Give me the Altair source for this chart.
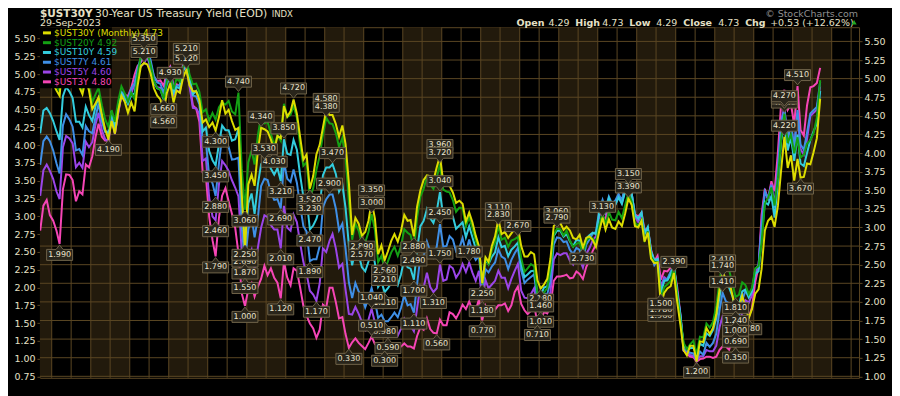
import altair as alt
import pandas as pd

# ------------------------------------------------------------------ data
# monthly closes, Sep-2003 .. Sep-2023 (241 months)
Y30 = [
    4.88, 5.15, 5.13, 5.07,
    4.93, 4.84, 4.77, 5.29, 5.33, 5.30, 5.20, 4.93, 4.89, 4.79, 5.00, 4.84,
    4.59, 4.67, 4.75, 4.51, 4.32, 4.19, 4.43, 4.26, 4.57, 4.77, 4.69, 4.54,
    4.68, 4.56, 4.90, 5.17, 5.21, 5.19, 5.07, 4.87, 4.77, 4.72, 4.56, 4.81,
    4.93, 4.68, 4.84, 4.81, 5.01, 5.12, 4.91, 4.83, 4.83, 4.71, 4.41, 4.45,
    4.35, 4.41, 4.30, 4.48, 4.71, 4.53, 4.58, 4.43, 4.31, 4.34, 3.44, 2.69,
    3.58, 3.71, 3.56, 4.03, 4.34, 4.32, 4.29, 4.18, 4.03, 4.23, 4.20, 4.63,
    4.49, 4.56, 4.72, 4.53, 4.22, 3.91, 3.98, 3.52, 3.69, 3.98, 4.11, 4.34,
    4.58, 4.51, 4.51, 4.39, 4.22, 4.37, 4.12, 3.60, 2.90, 3.13, 3.05, 2.89,
    2.94, 3.09, 3.35, 3.12, 2.64, 2.76, 2.56, 2.68, 2.82, 2.91, 2.81, 2.95,
    3.17, 3.09, 3.10, 2.88, 3.28, 3.50, 3.64, 3.70, 3.69, 3.63, 3.81, 3.96,
    3.61, 3.59, 3.56, 3.47, 3.33, 3.36, 3.32, 3.08, 3.20, 3.07, 2.89, 2.75,
    2.25, 2.60, 2.54, 2.75, 2.88, 3.11, 2.91, 2.94, 2.86, 2.92, 2.98, 3.01,
    2.75, 2.61, 2.61, 2.67, 2.64, 2.29, 2.18, 2.23, 2.31, 2.58, 3.02, 3.06,
    3.06, 2.97, 3.01, 2.96, 2.86, 2.84, 2.90, 2.73, 2.86, 2.88, 2.83, 2.74,
    2.95, 3.13, 2.97, 3.11, 3.00, 2.98, 3.08, 3.02, 3.19, 3.39, 3.30, 3.02,
    3.00, 3.09, 2.81, 2.93, 2.58, 2.52, 2.53, 1.96, 2.12, 2.18, 2.21, 2.39,
    2.00, 1.68, 1.35, 1.28, 1.41, 1.41, 1.20, 1.47, 1.46, 1.65, 1.57, 1.65,
    1.83, 2.17, 2.41, 2.30, 2.29, 2.09, 1.89, 1.93, 2.08, 1.93, 1.78, 1.90,
    2.11, 2.17, 2.44, 2.96, 3.09, 3.14, 3.01, 3.29, 3.78, 4.22, 3.80, 3.97,
    3.63, 3.92, 3.67, 3.68, 3.86, 3.85, 4.01, 4.20, 4.73,
]
Y20 = [
    4.91, 5.18, 5.17, 5.10,
    4.96, 4.84, 4.76, 5.34, 5.42, 5.33, 5.22, 4.91, 4.87, 4.77, 4.95, 4.84,
    4.60, 4.72, 4.81, 4.56, 4.36, 4.25, 4.49, 4.32, 4.62, 4.83, 4.73, 4.61,
    4.74, 4.65, 4.99, 5.27, 5.35, 5.31, 5.14, 4.91, 4.81, 4.78, 4.66, 4.91,
    5.01, 4.79, 4.94, 4.90, 5.10, 5.21, 5.00, 4.86, 4.87, 4.75, 4.46, 4.50,
    4.34, 4.45, 4.35, 4.53, 4.60, 4.57, 4.62, 4.47, 4.43, 4.74, 3.65, 3.06,
    3.74, 3.91, 3.71, 4.13, 4.41, 4.30, 4.32, 4.15, 3.98, 4.13, 4.05, 4.58,
    4.39, 4.42, 4.55, 4.38, 3.99, 3.69, 3.74, 3.23, 3.37, 3.63, 3.83, 4.13,
    4.38, 4.30, 4.29, 4.16, 3.96, 4.09, 3.81, 3.18, 2.63, 2.86, 2.76, 2.57,
    2.59, 2.74, 3.00, 2.77, 2.31, 2.40, 2.21, 2.32, 2.45, 2.53, 2.40, 2.54,
    2.78, 2.73, 2.70, 2.49, 2.95, 3.25, 3.36, 3.53, 3.42, 3.36, 3.52, 3.72,
    3.35, 3.32, 3.31, 3.20, 3.03, 3.09, 3.08, 2.82, 2.96, 2.79, 2.62, 2.47,
    2.00, 2.36, 2.28, 2.48, 2.59, 2.83, 2.63, 2.66, 2.53, 2.62, 2.64, 2.67,
    2.37, 2.17, 2.22, 2.28, 2.25, 1.86, 1.83, 1.87, 1.94, 2.23, 2.70, 2.79,
    2.78, 2.69, 2.76, 2.62, 2.53, 2.57, 2.59, 2.42, 2.62, 2.66, 2.65, 2.58,
    2.84, 3.02, 2.85, 3.03, 2.92, 2.91, 3.03, 2.94, 3.13, 3.30, 3.18, 2.87,
    2.83, 2.92, 2.63, 2.75, 2.39, 2.31, 2.31, 1.78, 1.95, 1.99, 2.04, 2.25,
    1.83, 1.46, 1.15, 1.06, 1.13, 1.18, 0.98, 1.24, 1.23, 1.43, 1.37, 1.45,
    1.68, 2.04, 2.31, 2.21, 2.20, 2.00, 1.81, 1.84, 2.02, 1.98, 1.85, 1.94,
    2.22, 2.25, 2.59, 3.15, 3.23, 3.38, 3.12, 3.51, 4.08, 4.44, 4.02, 4.14,
    3.87, 4.10, 3.81, 3.85, 4.01, 4.06, 4.16, 4.38, 4.92,
]
Y10 = [
    3.94, 4.29, 4.33, 4.25,
    4.13, 3.97, 3.84, 4.51, 4.65, 4.58, 4.48, 4.12, 4.12, 4.03, 4.35, 4.22,
    4.13, 4.36, 4.48, 4.20, 3.98, 3.94, 4.28, 4.02, 4.32, 4.56, 4.49, 4.39,
    4.53, 4.55, 4.85, 5.07, 5.12, 5.14, 4.99, 4.74, 4.63, 4.61, 4.46, 4.70,
    4.83, 4.56, 4.65, 4.63, 4.89, 5.03, 4.78, 4.54, 4.59, 4.48, 3.97, 4.03,
    3.67, 3.53, 3.45, 3.77, 4.06, 3.99, 3.99, 3.83, 3.85, 4.01, 2.93, 2.25,
    2.87, 3.02, 2.71, 3.16, 3.47, 3.53, 3.52, 3.40, 3.31, 3.41, 3.21, 3.85,
    3.63, 3.61, 3.84, 3.69, 3.31, 2.97, 2.94, 2.47, 2.53, 2.63, 2.81, 3.30,
    3.42, 3.42, 3.47, 3.32, 3.05, 3.16, 2.80, 2.23, 1.92, 2.17, 2.08, 1.89,
    1.83, 1.98, 2.23, 1.95, 1.59, 1.67, 1.51, 1.57, 1.65, 1.72, 1.62, 1.78,
    2.02, 1.89, 1.87, 1.70, 2.16, 2.52, 2.60, 2.78, 2.64, 2.57, 2.75, 3.04,
    2.67, 2.66, 2.73, 2.67, 2.48, 2.53, 2.58, 2.35, 2.52, 2.35, 2.18, 2.17,
    1.68, 2.00, 1.94, 2.05, 2.12, 2.35, 2.20, 2.22, 2.06, 2.16, 2.21, 2.27,
    1.94, 1.74, 1.78, 1.83, 1.84, 1.49, 1.46, 1.58, 1.60, 1.84, 2.37, 2.45,
    2.45, 2.36, 2.40, 2.29, 2.21, 2.31, 2.30, 2.12, 2.33, 2.38, 2.42, 2.40,
    2.72, 2.87, 2.74, 2.95, 2.83, 2.85, 2.96, 2.86, 3.05, 3.15, 3.01, 2.69,
    2.63, 2.73, 2.41, 2.51, 2.14, 2.00, 2.02, 1.50, 1.68, 1.69, 1.78, 1.92,
    1.51, 1.13, 0.70, 0.64, 0.65, 0.66, 0.55, 0.72, 0.69, 0.88, 0.84, 0.93,
    1.11, 1.44, 1.74, 1.65, 1.58, 1.45, 1.24, 1.30, 1.52, 1.55, 1.43, 1.52,
    1.79, 1.83, 2.32, 2.89, 2.85, 2.98, 2.65, 3.19, 3.83, 4.10, 3.68, 3.88,
    3.52, 3.92, 3.48, 3.44, 3.64, 3.84, 3.97, 4.09, 4.59,
]
Y7 = [
    3.35, 3.71, 3.78, 3.71,
    3.57, 3.37, 3.22, 3.95, 4.12, 4.04, 3.93, 3.57, 3.59, 3.50, 3.94, 3.86,
    3.83, 4.08, 4.28, 4.01, 3.85, 3.84, 4.16, 3.91, 4.22, 4.46, 4.42, 4.35,
    4.51, 4.59, 4.81, 4.98, 5.02, 5.11, 4.94, 4.70, 4.60, 4.58, 4.44, 4.70,
    4.81, 4.51, 4.55, 4.56, 4.84, 4.98, 4.68, 4.40, 4.39, 4.27, 3.71, 3.70,
    3.18, 3.07, 2.88, 3.37, 3.78, 3.73, 3.62, 3.43, 3.44, 3.46, 2.39, 1.87,
    2.37, 2.56, 2.25, 2.55, 3.03, 3.14, 3.12, 2.93, 2.82, 2.83, 2.69, 3.39,
    3.14, 3.09, 3.28, 3.08, 2.74, 2.42, 2.34, 1.89, 1.92, 1.92, 2.12, 2.71,
    2.83, 2.90, 2.90, 2.69, 2.36, 2.46, 2.08, 1.57, 1.33, 1.56, 1.43, 1.35,
    1.19, 1.33, 1.48, 1.29, 1.03, 1.08, 0.98, 0.98, 1.04, 1.11, 1.04, 1.18,
    1.37, 1.22, 1.24, 1.11, 1.54, 1.96, 1.96, 2.19, 2.04, 1.95, 2.11, 2.45,
    2.11, 2.12, 2.27, 2.22, 2.04, 2.09, 2.24, 2.02, 2.22, 2.02, 1.91, 1.97,
    1.48, 1.77, 1.72, 1.81, 1.87, 2.07, 1.96, 1.93, 1.77, 1.91, 2.01, 2.09,
    1.75, 1.56, 1.61, 1.65, 1.69, 1.29, 1.24, 1.40, 1.39, 1.58, 2.14, 2.25,
    2.24, 2.18, 2.19, 2.06, 2.00, 2.09, 2.06, 1.91, 2.14, 2.22, 2.31, 2.33,
    2.66, 2.82, 2.68, 2.87, 2.76, 2.81, 2.91, 2.81, 3.05, 3.07, 2.92, 2.59,
    2.54, 2.61, 2.31, 2.39, 2.02, 1.83, 1.90, 1.42, 1.61, 1.62, 1.73, 1.83,
    1.42, 1.07, 0.55, 0.53, 0.50, 0.49, 0.39, 0.52, 0.47, 0.65, 0.59, 0.65,
    0.79, 1.15, 1.41, 1.28, 1.25, 1.21, 1.00, 1.06, 1.30, 1.44, 1.35, 1.44,
    1.76, 1.83, 2.42, 2.95, 2.84, 3.04, 2.70, 3.27, 4.00, 4.19, 3.74, 3.97,
    3.62, 4.18, 3.66, 3.58, 3.84, 4.13, 4.18, 4.23, 4.61,
]
Y5 = [
    2.85, 3.26, 3.35, 3.25,
    3.12, 2.92, 2.80, 3.63, 3.81, 3.77, 3.69, 3.31, 3.38, 3.30, 3.72, 3.63,
    3.71, 4.00, 4.18, 3.90, 3.76, 3.72, 4.12, 3.84, 4.18, 4.45, 4.41, 4.35,
    4.49, 4.64, 4.82, 4.92, 4.97, 5.09, 4.88, 4.65, 4.59, 4.58, 4.44, 4.70,
    4.80, 4.46, 4.54, 4.51, 4.86, 4.92, 4.60, 4.26, 4.25, 4.16, 3.41, 3.45,
    2.82, 2.52, 2.46, 3.03, 3.41, 3.34, 3.25, 3.10, 2.98, 2.84, 1.93, 1.55,
    1.85, 1.99, 1.67, 2.02, 2.34, 2.54, 2.51, 2.38, 2.31, 2.31, 2.01, 2.69,
    2.34, 2.29, 2.55, 2.43, 2.10, 1.79, 1.60, 1.33, 1.27, 1.17, 1.45, 2.01,
    1.95, 2.13, 2.24, 2.01, 1.70, 1.76, 1.35, 0.96, 0.95, 1.07, 0.96, 0.83,
    0.71, 0.87, 1.04, 0.82, 0.67, 0.72, 0.60, 0.59, 0.62, 0.72, 0.61, 0.72,
    0.88, 0.77, 0.77, 0.68, 1.05, 1.41, 1.38, 1.62, 1.39, 1.31, 1.37, 1.75,
    1.49, 1.51, 1.73, 1.69, 1.54, 1.62, 1.76, 1.63, 1.78, 1.62, 1.49, 1.65,
    1.18, 1.50, 1.37, 1.43, 1.49, 1.65, 1.54, 1.54, 1.37, 1.52, 1.65, 1.76,
    1.33, 1.22, 1.21, 1.28, 1.37, 1.06, 1.01, 1.19, 1.14, 1.31, 1.83, 1.93,
    1.90, 1.93, 1.93, 1.81, 1.75, 1.89, 1.84, 1.70, 1.92, 2.01, 2.14, 2.20,
    2.52, 2.65, 2.56, 2.79, 2.68, 2.73, 2.85, 2.74, 2.94, 2.98, 2.81, 2.51,
    2.43, 2.52, 2.23, 2.28, 1.93, 1.76, 1.84, 1.39, 1.55, 1.51, 1.62, 1.69,
    1.32, 0.89, 0.37, 0.36, 0.30, 0.29, 0.21, 0.28, 0.28, 0.38, 0.36, 0.36,
    0.45, 0.75, 0.92, 0.86, 0.79, 0.87, 0.69, 0.77, 0.98, 1.18, 1.14, 1.26,
    1.62, 1.71, 2.42, 2.92, 2.81, 3.04, 2.70, 3.30, 4.06, 4.27, 3.74, 3.99,
    3.62, 4.18, 3.60, 3.51, 3.76, 4.13, 4.18, 4.23, 4.60,
]
Y3 = [
    2.20, 2.60, 2.69, 2.45,
    2.36, 2.20, 1.99, 2.86, 3.10, 3.09, 3.01, 2.67, 2.83, 2.78, 3.26, 3.21,
    3.39, 3.70, 3.91, 3.70, 3.64, 3.64, 4.01, 3.76, 4.09, 4.38, 4.37, 4.35,
    4.48, 4.69, 4.83, 4.89, 4.97, 5.10, 4.88, 4.66, 4.59, 4.60, 4.51, 4.74,
    4.82, 4.49, 4.54, 4.51, 4.86, 4.89, 4.57, 4.20, 4.15, 3.94, 3.13, 3.07,
    2.42, 2.05, 1.79, 2.40, 2.76, 2.88, 2.67, 2.47, 2.24, 1.84, 1.20, 1.00,
    1.26, 1.36, 1.15, 1.31, 1.43, 1.64, 1.49, 1.60, 1.45, 1.37, 1.12, 1.70,
    1.45, 1.33, 1.60, 1.56, 1.30, 1.00, 0.84, 0.72, 0.64, 0.49, 0.62, 1.02,
    0.97, 1.29, 1.29, 1.06, 0.80, 0.82, 0.55, 0.33, 0.42, 0.48, 0.41, 0.36,
    0.31, 0.41, 0.51, 0.39, 0.35, 0.39, 0.30, 0.31, 0.31, 0.37, 0.34, 0.35,
    0.40, 0.35, 0.35, 0.32, 0.52, 0.66, 0.62, 0.80, 0.63, 0.57, 0.56, 0.78,
    0.69, 0.69, 0.90, 0.87, 0.80, 0.90, 1.02, 0.95, 1.07, 0.93, 0.93, 1.10,
    0.77, 1.00, 0.89, 0.91, 0.94, 1.01, 1.01, 1.04, 0.92, 1.01, 1.22, 1.31,
    1.03, 0.93, 0.87, 0.92, 1.03, 0.71, 0.75, 0.90, 0.88, 0.99, 1.40, 1.47,
    1.47, 1.48, 1.50, 1.44, 1.45, 1.55, 1.51, 1.43, 1.62, 1.73, 1.88, 1.98,
    2.28, 2.42, 2.39, 2.62, 2.52, 2.62, 2.75, 2.66, 2.88, 2.90, 2.79, 2.46,
    2.43, 2.49, 2.21, 2.24, 1.90, 1.71, 1.80, 1.42, 1.56, 1.55, 1.61, 1.62,
    1.30, 0.85, 0.29, 0.23, 0.19, 0.18, 0.11, 0.15, 0.16, 0.19, 0.19, 0.17,
    0.19, 0.30, 0.35, 0.35, 0.30, 0.46, 0.35, 0.40, 0.53, 0.75, 0.82, 0.97,
    1.38, 1.62, 2.45, 2.87, 2.69, 2.99, 2.83, 3.45, 4.25, 4.45, 4.13, 4.22,
    3.90, 4.51, 3.81, 3.72, 4.20, 4.49, 4.51, 4.56, 4.80,
]

# high / low value flags drawn on the chart: (month, value, H=high / L=low)
ANN30 = [
    ("2005-06", 4.19, "L"), ("2006-05", 5.21, "H"), ("2006-11", 4.56, "L"),
    ("2007-01", 4.93, "H"), ("2007-06", 5.12, "H"), ("2008-03", 4.30, "L"),
    ("2008-12", 2.69, "L"), ("2009-05", 4.34, "H"), ("2009-09", 4.03, "L"),
    ("2010-03", 4.72, "H"), ("2010-08", 3.52, "L"), ("2011-01", 4.58, "H"),
    ("2011-12", 2.89, "L"), ("2012-03", 3.35, "H"), ("2012-07", 2.56, "L"),
    ("2013-04", 2.88, "L"), ("2013-12", 3.96, "H"), ("2015-01", 2.25, "L"),
    ("2015-06", 3.11, "H"), ("2016-07", 2.18, "L"), ("2016-12", 3.06, "H"),
    ("2017-08", 2.73, "L"), ("2018-02", 3.13, "H"), ("2018-10", 3.39, "H"),
    ("2019-08", 1.96, "L"), ("2019-12", 2.39, "H"), ("2020-07", 1.20, "L"),
    ("2021-03", 2.41, "H"), ("2021-11", 1.78, "L"), ("2022-10", 4.22, "H"),
    ("2023-03", 3.67, "L"),
]
ANN20 = [
    ("2006-05", 5.35, "H"), ("2006-11", 4.66, "L"), ("2007-06", 5.21, "H"),
    ("2008-10", 4.74, "H"), ("2008-12", 3.06, "L"), ("2010-08", 3.23, "L"),
    ("2011-01", 4.38, "H"), ("2011-12", 2.57, "L"), ("2012-03", 3.00, "H"),
    ("2012-07", 2.21, "L"), ("2013-04", 2.49, "L"), ("2013-12", 3.72, "H"),
    ("2015-06", 2.83, "H"), ("2015-12", 2.67, "H"), ("2016-12", 2.79, "H"),
    ("2019-08", 1.78, "L"), ("2021-07", 1.81, "L"), ("2022-10", 4.44, "H"),
]
ANN10 = [
    ("2008-03", 3.45, "L"), ("2008-12", 2.25, "L"), ("2009-06", 3.53, "H"),
    ("2009-11", 3.21, "L"), ("2009-12", 3.85, "H"), ("2010-08", 2.47, "L"),
    ("2011-03", 3.47, "H"), ("2012-07", 1.51, "L"), ("2013-04", 1.70, "L"),
    ("2013-12", 3.04, "H"), ("2016-07", 1.46, "L"), ("2018-10", 3.15, "H"),
    ("2019-08", 1.50, "L"), ("2021-03", 1.74, "H"), ("2021-07", 1.24, "L"),
]
ANN7 = [
    ("2008-03", 2.88, "L"), ("2008-12", 1.87, "L"), ("2009-11", 2.69, "L"),
    ("2010-08", 1.89, "L"), ("2011-02", 2.90, "H"), ("2012-07", 0.98, "L"),
    ("2013-04", 1.11, "L"), ("2013-12", 2.45, "H"), ("2021-03", 1.41, "H"),
    ("2021-07", 1.00, "L"), ("2022-10", 4.19, "H"),
]
ANN5 = [
    ("2008-03", 2.46, "L"), ("2008-12", 1.55, "L"), ("2009-11", 2.01, "L"),
    ("2010-10", 1.17, "L"), ("2012-03", 1.04, "H"), ("2012-08", 0.59, "L"),
    ("2013-10", 1.31, "L"), ("2013-12", 1.75, "H"), ("2014-09", 1.78, "H"),
    ("2015-01", 1.18, "L"), ("2016-07", 1.01, "L"), ("2021-07", 0.69, "L"),
    ("2022-10", 4.27, "H"),
]
ANN3 = [
    ("2004-03", 1.99, "L"), ("2008-03", 1.79, "L"), ("2008-12", 1.00, "L"),
    ("2009-11", 1.12, "L"), ("2011-08", 0.33, "L"), ("2012-03", 0.51, "H"),
    ("2012-07", 0.30, "L"), ("2013-11", 0.56, "L"), ("2015-01", 0.77, "L"),
    ("2016-06", 0.71, "L"), ("2021-07", 0.35, "L"), ("2023-02", 4.51, "H"),
]

LEFT_TICKS = [0.75, 1.00, 1.25, 1.50, 1.75, 2.00, 2.25, 2.50, 2.75, 3.00, 3.25,
              3.50, 3.75, 4.00, 4.25, 4.50, 4.75, 5.00, 5.25, 5.50]
RIGHT_TICKS = [1.00, 1.25, 1.50, 1.75, 2.00, 2.25, 2.50, 2.75, 3.00, 3.25, 3.50,
               3.75, 4.00, 4.25, 4.50, 4.75, 5.00, 5.25, 5.50]
BAND_YEARS = [2003, 2005, 2007, 2009, 2011, 2013, 2015, 2017, 2019, 2021, 2023]
YEARS = list(range(2004, 2025))

HDR_SYMBOL = "$UST30Y"
HDR_NAME = "30-Year US Treasury Yield (EOD)"
HDR_EXCH = "INDX"
HDR_DATE = "29-Sep-2023"
COPYRIGHT = "\u00a9 StockCharts.com"
OHLC = [("Open", "4.29"), ("High", "4.73"), ("Low", "4.29"),
        ("Close", "4.73"), ("Chg", "+0.53 (+12.62%)")]

# ------------------------------------------------------------------ style
FONT = "DejaVu Sans"
CREAM = "#e6e0c6"
GRID = "#5a4623"
BAND = "#221a0c"
W, H = 820, 351

# series: name, values, flags, colour, y-domain of its own overlay scale
SERIES = [
    ("$UST30Y", Y30, ANN30, "#dcdc00", [0.980, 5.691]),
    ("$UST20Y", Y20, ANN20, "#14a014", [0.650, 5.679]),
    ("$UST10Y", Y10, ANN10, "#33ccdd", [0.199, 5.566]),
    ("$UST7Y", Y7, ANN7, "#3f8fe6", [0.121, 5.439]),
    ("$UST5Y", Y5, ANN5, "#9b45e8", [-0.064, 5.552]),
    ("$UST3Y", Y3, ANN3, "#f545b5", [-0.148, 5.450]),
]
LEFT_DOM = [0.731, 5.658]

DATES = pd.date_range("2003-09-01", periods=len(Y30), freq="MS") + pd.Timedelta(days=14)
for s in SERIES:
    assert len(s[1]) == len(DATES), s[0]

XS = alt.Scale(domain=[alt.DateTime(year=2003, month=9, date=13),
                       alt.DateTime(year=2024, month=9, date=13)])


def yscale(dom):
    return alt.Scale(domain=dom, nice=False, zero=False)


layers = []

# shaded alternate years
bands = pd.DataFrame({
    "s": [pd.Timestamp(f"{y}-01-01") for y in BAND_YEARS],
    "e": [pd.Timestamp(f"{y + 1}-01-01") for y in BAND_YEARS],
})
layers.append(alt.Chart(bands).mark_rect(color=BAND, clip=True).encode(
    x=alt.X("s:T", scale=XS, axis=None), x2="e:T"))

# vertical grid (half-years) + x axis
vgrid = pd.DataFrame({"d": pd.date_range("2004-01-01", "2024-07-01", freq="6MS")})
layers.append(alt.Chart(vgrid).mark_rule(color=GRID, strokeWidth=1).encode(
    x=alt.X("d:T", scale=XS, axis=alt.Axis(
        values=[alt.DateTime(year=y, month=m, date=1) for y in YEARS for m in (1, 7)],
        labelExpr="month(datum.value) == 0 ? timeFormat(datum.value, '%Y') : ''",
        labelFont=FONT, labelFontSize=10.5, labelColor=CREAM, labelPadding=1,
        tickColor=GRID, tickSize=4, domain=False, grid=False, title=None,
        labelOverlap=False, labelFlush=False))))

# horizontal grid, on the 30Y (right-axis) scale
layers.append(alt.Chart(pd.DataFrame({"t": RIGHT_TICKS})).mark_rule(
    color=GRID, strokeWidth=1).encode(
    y=alt.Y("t:Q", scale=yscale(SERIES[0][4]), axis=None)))

# lines, shortest maturity first, 30Y on top
for name, vals, _, col, dom in reversed(SERIES):
    df = pd.DataFrame({"date": DATES, "v": vals})
    if name == "$UST30Y":
        ax = alt.Axis(orient="right", values=RIGHT_TICKS, format=".2f", title=None,
                      labelFont=FONT, labelFontSize=9.5, labelColor=CREAM,
                      tickColor=GRID, tickSize=3, labelPadding=2, domain=False,
                      grid=False, labelOverlap=False, labelFlush=False)
    else:
        ax = None
    layers.append(alt.Chart(df).mark_line(color=col, strokeWidth=2, clip=True).encode(
        x=alt.X("date:T", scale=XS, axis=None),
        y=alt.Y("v:Q", scale=yscale(dom), axis=ax)))

# legend backing box
layers.append(alt.Chart(pd.DataFrame({"a": [0]})).mark_rect(color="#000000").encode(
    x=alt.value(0), x2=alt.value(72), y=alt.value(0), y2=alt.value(61)))

# value flags
PATH_H = "M-1.3,-0.55L-0.35,-0.55L0,-0.12L0.35,-0.55L1.3,-0.55L1.3,-1.65L-1.3,-1.65Z"
PATH_L = "M-1.3,0.55L-0.35,0.55L0,0.12L0.35,0.55L1.3,0.55L1.3,1.65L-1.3,1.65Z"
for name, vals, ann, col, dom in SERIES:
    adf = pd.DataFrame({
        "date": [pd.Timestamp(m + "-15") for m, _, _ in ann],
        "v": [v for _, v, _ in ann],
        "dir": [d for _, _, d in ann],
        "lab": [f"{v:.3f}" for _, v, _ in ann],
    })
    base = alt.Chart(adf).encode(
        x=alt.X("date:T", scale=XS, axis=None),
        y=alt.Y("v:Q", scale=yscale(dom), axis=None))
    layers.append(base.mark_point(filled=True, size=400, fill="#29251b",
                                  stroke="#6f6349", strokeWidth=1, opacity=1).encode(
        shape=alt.Shape("dir:N", scale=alt.Scale(domain=["H", "L"], range=[PATH_H, PATH_L]),
                        legend=None)))
    for d, dy in (("H", -11), ("L", 11)):
        layers.append(base.transform_filter(f"datum.dir == '{d}'").mark_text(
            dy=dy, baseline="middle", align="center", font=FONT, fontSize=8,
            color="#ece6d0").encode(text="lab:N"))

# legend rows
for i, (name, vals, _, col, dom) in enumerate(SERIES):
    cy = 5.7 + 9.8 * i
    txt = f"{name} (Monthly) {vals[-1]:.2f}" if i == 0 else f"{name} {vals[-1]:.2f}"
    layers.append(alt.Chart(pd.DataFrame({"a": [0]})).mark_rule(color=col, strokeWidth=3).encode(
        x=alt.value(3), x2=alt.value(11), y=alt.value(cy)))
    layers.append(alt.Chart(pd.DataFrame({"t": [txt]})).mark_text(
        align="left", baseline="middle", font=FONT, fontSize=9, color=col).encode(
        text="t:N", x=alt.value(14), y=alt.value(cy)))


def label(text, x, y, size, color=CREAM, weight="normal", align="left"):
    return alt.Chart(pd.DataFrame({"t": [text]})).mark_text(
        align=align, baseline="alphabetic", font=FONT, fontSize=size,
        fontWeight=weight, color=color).encode(text="t:N", x=alt.value(x), y=alt.value(y))


# header (plot origin is at page (40, 27))
layers.append(label(HDR_SYMBOL, 0, -9.8, 10.5, weight="bold"))
layers.append(label(HDR_NAME, 55, -9.8, 10.9))
layers.append(label(HDR_EXCH, 232, -9.8, 8.5))
layers.append(label(HDR_DATE, 0, -0.8, 9.5))
layers.append(label(COPYRIGHT, W - 1, -10, 9.5, color="#8e8e8e", align="right"))
OHLC_X = [(477, 509), (536, 563), (590, 617), (644, 679), (706, 731)]
for (k, v), (xk, xv) in zip(OHLC, OHLC_X):
    layers.append(label(k, xk, -1.2, 9.5, weight="bold"))
    layers.append(label(v, xv, -1.2, 9.5))
layers.append(alt.Chart(pd.DataFrame({"a": [0]})).mark_point(
    shape="triangle-up", filled=True, size=28, color="#22a822", opacity=1).encode(
    x=alt.value(815), y=alt.value(-5)))

# left axis (own scale, as in the reference)
layers.append(alt.Chart(pd.DataFrame({"t": LEFT_TICKS})).mark_tick(opacity=0).encode(
    y=alt.Y("t:Q", scale=yscale(LEFT_DOM), axis=alt.Axis(
        orient="left", values=LEFT_TICKS, format=".2f", title=None,
        labelFont=FONT, labelFontSize=9.5, labelColor=CREAM, tickColor=GRID,
        tickSize=3, labelPadding=2, domain=False, grid=False,
        labelOverlap=False, labelFlush=False))))

chart = alt.layer(*layers).resolve_scale(y="independent").properties(
    width=W, height=H,
    padding={"left": 32, "top": 19, "right": 33, "bottom": 18},
    autosize=alt.AutoSizeParams(type="none"),
    background="#000000",
    usermeta={"embedOptions": {"defaultStyle": "html,body{background:#000000;}"}},
).configure_view(stroke=GRID, strokeWidth=1)

chart.save("out.html", embed_options={"renderer": "svg", "actions": False})
